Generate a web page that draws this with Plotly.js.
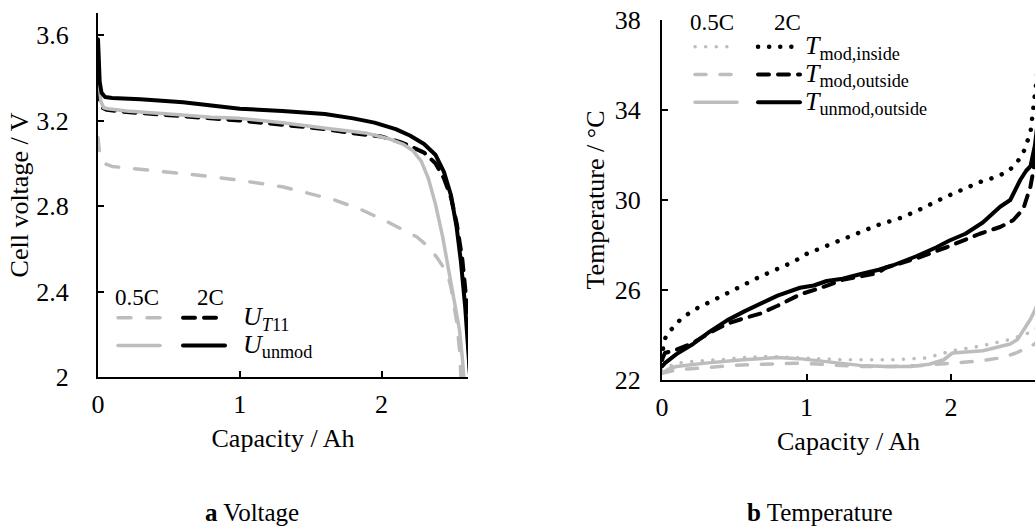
<!DOCTYPE html>
<html>
<head>
<meta charset="utf-8">
<script src="https://cdn.plot.ly/plotly-3.0.1.min.js"></script>
<style>
html,body{margin:0;padding:0;background:#fff;}
#chart{width:1035px;height:530px;}
path.js-line{stroke-linecap:round !important;stroke-linejoin:round !important;}
</style>
</head>
<body>
<div id="chart"></div>
<script>
// ---------- Voltage (left) ----------
const capUT11_05C = [0, 0.005, 0.012, 0.03, 0.06, 0.1, 0.33, 0.56, 0.77, 1.0, 1.3, 1.66, 1.85, 2.03, 2.15, 2.25, 2.33, 2.39, 2.44, 2.47, 2.49, 2.51, 2.53, 2.55, 2.56];
const uT11_05C    = [3.12, 3.08, 3.04, 3.01, 2.995, 2.985, 2.97, 2.955, 2.94, 2.92, 2.89, 2.83, 2.785, 2.73, 2.69, 2.655, 2.61, 2.56, 2.51, 2.47, 2.42, 2.35, 2.26, 2.13, 2.0];

const capUT11_2C = [0, 0.005, 0.012, 0.03, 0.06, 0.2, 0.5, 0.8, 1.0, 1.3, 1.6, 1.8, 2.0, 2.15, 2.3, 2.38, 2.44, 2.49, 2.53, 2.57, 2.6, 2.625];
const uT11_2C    = [3.45, 3.36, 3.30, 3.26, 3.25, 3.24, 3.225, 3.21, 3.20, 3.18, 3.16, 3.14, 3.125, 3.095, 3.05, 3.0, 2.93, 2.84, 2.72, 2.55, 2.35, 2.0];

const capUunmod_05C = [0, 0.004, 0.01, 0.02, 0.04, 0.07, 0.2, 0.5, 0.8, 1.0, 1.3, 1.65, 1.9, 2.05, 2.15, 2.22, 2.28, 2.33, 2.38, 2.43, 2.47, 2.5, 2.53, 2.55, 2.57, 2.58];
const uUnmod_05C    = [3.56, 3.45, 3.36, 3.29, 3.26, 3.255, 3.245, 3.23, 3.215, 3.21, 3.19, 3.16, 3.14, 3.115, 3.09, 3.06, 3.01, 2.93, 2.81, 2.66, 2.52, 2.41, 2.30, 2.22, 2.09, 2.0];

const capUunmod_2C = [0, 0.005, 0.012, 0.025, 0.05, 0.1, 0.3, 0.6, 0.9, 1.0, 1.3, 1.6, 1.8, 1.95, 2.1, 2.2, 2.3, 2.38, 2.44, 2.49, 2.53, 2.56, 2.59, 2.61, 2.625];
const uUnmod_2C    = [3.58, 3.47, 3.38, 3.33, 3.31, 3.305, 3.30, 3.285, 3.265, 3.255, 3.245, 3.23, 3.21, 3.19, 3.16, 3.13, 3.09, 3.04, 2.96, 2.85, 2.70, 2.54, 2.33, 2.15, 2.0];

const voltTicks = [2, 2.4, 2.8, 3.2, 3.6];
const voltTickText = ["2", "2.4", "2.8", "3.2", "3.6"];

// ---------- Temperature (right) ----------
const capTinside_05C = [0, 0.05, 0.1, 0.25, 0.4, 0.56, 0.75, 0.91, 1.1, 1.25, 1.45, 1.6, 1.83, 2.01, 2.2, 2.41, 2.5, 2.58, 2.61];
const tInside_05C    = [22.4, 22.6, 22.75, 22.85, 22.9, 23.0, 23.05, 23.0, 22.95, 22.9, 22.9, 22.9, 22.98, 23.3, 23.5, 23.8, 24.0, 24.2, 24.5];

const capToutside_05C = [0, 0.1, 0.3, 0.5, 0.7, 0.91, 1.1, 1.37, 1.6, 1.8, 2.01, 2.2, 2.36, 2.45, 2.52, 2.58, 2.61];
const tOutside_05C    = [22.3, 22.45, 22.55, 22.65, 22.7, 22.75, 22.7, 22.6, 22.6, 22.65, 22.75, 22.85, 23.0, 23.2, 23.4, 23.6, 23.8];

const capTunmod_05C = [0, 0.05, 0.1, 0.3, 0.56, 0.8, 0.95, 1.2, 1.37, 1.55, 1.72, 1.85, 1.95, 2.01, 2.22, 2.41, 2.46, 2.52, 2.55, 2.58, 2.61];
const tUnmod_05C    = [22.3, 22.5, 22.6, 22.75, 22.9, 23.0, 22.95, 22.75, 22.65, 22.6, 22.6, 22.7, 22.9, 23.2, 23.3, 23.6, 23.8, 24.4, 24.7, 25.1, 25.6];

const capTinside_2C = [0, 0.01, 0.03, 0.07, 0.125, 0.215, 0.35, 0.45, 0.68, 0.91, 1.0, 1.15, 1.32, 1.5, 1.65, 1.76, 1.95, 2.1, 2.2, 2.3, 2.39, 2.45, 2.5, 2.55, 2.57, 2.59, 2.61];
const tInside_2C    = [22.9, 23.6, 24.0, 24.3, 24.67, 25.1, 25.5, 25.85, 26.6, 27.25, 27.6, 28.0, 28.45, 28.9, 29.2, 29.5, 30.1, 30.5, 30.8, 31.0, 31.25, 31.6, 32.1, 33.0, 34.0, 35.2, 36.5];

const capToutside_2C = [0, 0.02, 0.1, 0.215, 0.33, 0.45, 0.57, 0.68, 0.8, 0.955, 1.1, 1.25, 1.49, 1.55, 1.76, 1.97, 2.2, 2.34, 2.43, 2.46, 2.5, 2.52, 2.55, 2.57, 2.59, 2.61];
const tOutside_2C    = [22.9, 23.2, 23.35, 23.65, 24.1, 24.5, 24.75, 24.95, 25.3, 25.8, 26.1, 26.45, 26.75, 27.0, 27.4, 27.9, 28.5, 28.8, 29.1, 29.3, 29.6, 30.0, 30.6, 31.3, 32.2, 33.5];

const capTunmod_2C = [0, 0.02, 0.1, 0.215, 0.33, 0.45, 0.57, 0.68, 0.8, 0.955, 1.05, 1.14, 1.25, 1.37, 1.5, 1.6, 1.76, 1.9, 1.99, 2.1, 2.22, 2.34, 2.41, 2.48, 2.52, 2.55, 2.58, 2.61];
const tUnmod_2C    = [22.6, 22.75, 23.15, 23.6, 24.15, 24.65, 25.05, 25.4, 25.75, 26.1, 26.2, 26.4, 26.5, 26.7, 26.9, 27.1, 27.5, 27.9, 28.2, 28.5, 29.0, 29.7, 30.0, 30.9, 31.3, 31.5, 32.4, 34.0];

const tempTicks = [22, 26, 30, 34, 38];
const capTicks = [0, 1, 2];

// ---------- labels ----------
const rateLabels = ["0.5C", "2C"];
const voltNames = ["<i>U</i><sub><i>T</i>11</sub>", "<i>U</i><sub>unmod</sub>"];
const tempNames = ["<i>T</i><sub>mod,inside</sub>", "<i>T</i><sub>mod,outside</sub>", "<i>T</i><sub>unmod,outside</sub>"];
const captions = ["<b>a</b> Voltage", "<b>b</b> Temperature"];

const GRAY = "#bdbdbd";
const BLACK = "#000000";
const FONT = "Liberation Serif";
const LBL = s => '<span style="font-size:26px">' + s + '</span>';
const BLANK = "&nbsp;";

function tr(x, y, xa, ya, color, width, dash, name, legend) {
  return {
    type: "scatter", mode: "lines", x: x, y: y, xaxis: xa, yaxis: ya,
    line: {color: color, width: width, dash: dash},
    name: name, legend: legend, showlegend: true, hoverinfo: "skip"
  };
}

const data = [
  tr(capUT11_05C, uT11_05C, "x", "y", GRAY, 3.5, "13px,16px", BLANK, "legend"),
  tr(capUT11_2C, uT11_2C, "x", "y", BLACK, 4, "12px,9px", LBL("&nbsp;&nbsp;" + voltNames[0]), "legend2"),
  tr(capUunmod_05C, uUnmod_05C, "x", "y", GRAY, 3.5, "solid", BLANK, "legend"),
  tr(capUunmod_2C, uUnmod_2C, "x", "y", BLACK, 4, "solid", LBL("&nbsp;&nbsp;" + voltNames[1]), "legend2"),

  tr(capTinside_05C, tInside_05C, "x2", "y2", GRAY, 3.5, "0.1px,10.5px", BLANK, "legend3"),
  tr(capToutside_05C, tOutside_05C, "x2", "y2", GRAY, 3.5, "11px,14px", BLANK, "legend3"),
  tr(capTunmod_05C, tUnmod_05C, "x2", "y2", GRAY, 3.5, "solid", BLANK, "legend3"),
  tr(capTinside_2C, tInside_2C, "x2", "y2", BLACK, 4.5, "0.1px,11px", LBL(tempNames[0]), "legend4"),
  tr(capToutside_2C, tOutside_2C, "x2", "y2", BLACK, 4, "11px,9px", LBL(tempNames[1]), "legend4"),
  tr(capTunmod_2C, tUnmod_2C, "x2", "y2", BLACK, 4, "solid", LBL(tempNames[2]), "legend4")
];

const W = 1035, H = 530;
const px = v => v / W;
const py = v => (H - v) / H;

const axisBase = {
  showgrid: false, zeroline: false, showline: true, linecolor: BLACK, linewidth: 2,
  ticks: "inside", ticklen: 6, tickwidth: 1.5, tickcolor: BLACK,
  tickfont: {family: FONT, size: 26, color: BLACK},
  fixedrange: true
};
const legendBase = {
  bgcolor: "rgba(0,0,0,0)", borderwidth: 0, font: {family: FONT, size: 19, color: BLACK},
  xanchor: "left", yanchor: "top", itemwidth: 42, itemclick: false, itemdoubleclick: false,
  tracegroupgap: 0
};
const titleFont = {family: FONT, size: 26, color: BLACK};
const annFont = {family: FONT, size: 23, color: BLACK};

const layout = {
  width: W, height: H,
  margin: {l: 0, r: 0, t: 0, b: 0},
  paper_bgcolor: "#ffffff", plot_bgcolor: "rgba(0,0,0,0)",
  showlegend: true,
  font: {family: FONT, color: BLACK},
  xaxis: Object.assign({}, axisBase, {
    domain: [px(98), px(468)], range: [0, 2.61], anchor: "y",
    tickvals: capTicks, ticklabelstandoff: 3,
    title: {text: "Capacity / Ah", font: titleFont, standoff: 11}
  }),
  yaxis: Object.assign({}, axisBase, {
    domain: [py(377), py(13)], range: [2, 3.703], anchor: "x",
    tickvals: voltTicks, ticktext: voltTickText, ticklabelstandoff: 22,
    title: {text: "Cell voltage / V", font: titleFont, standoff: 0}
  }),
  xaxis2: Object.assign({}, axisBase, {
    domain: [px(662), 1], range: [0, (W - 662) / 144.5], anchor: "y2",
    tickvals: capTicks, ticklabelstandoff: 3,
    title: {text: "Capacity / Ah", font: titleFont, standoff: 11}
  }),
  yaxis2: Object.assign({}, axisBase, {
    domain: [py(380), py(20)], range: [22, 38], anchor: "x2",
    tickvals: tempTicks, ticklabelstandoff: 14,
    title: {text: "Temperature / °C", font: titleFont, standoff: 3}
  }),
  legend: Object.assign({}, legendBase, {x: px(113), y: py(299)}),
  legend2: Object.assign({}, legendBase, {x: px(178), y: py(299)}),
  legend3: Object.assign({}, legendBase, {x: px(690), y: py(28)}),
  legend4: Object.assign({}, legendBase, {x: px(753), y: py(28)}),
  annotations: [
    {text: rateLabels[0], x: px(137), y: py(297), xref: "paper", yref: "paper", showarrow: false, xanchor: "center", yanchor: "middle", font: annFont},
    {text: rateLabels[1], x: px(210), y: py(297), xref: "paper", yref: "paper", showarrow: false, xanchor: "center", yanchor: "middle", font: annFont},
    {text: rateLabels[0], x: px(712), y: py(23), xref: "paper", yref: "paper", showarrow: false, xanchor: "center", yanchor: "middle", font: annFont},
    {text: rateLabels[1], x: px(787), y: py(23), xref: "paper", yref: "paper", showarrow: false, xanchor: "center", yanchor: "middle", font: annFont},
    {text: captions[0], x: px(252), y: py(512), xref: "paper", yref: "paper", showarrow: false, xanchor: "center", yanchor: "middle", font: {family: FONT, size: 25, color: BLACK}},
    {text: captions[1], x: px(820), y: py(512), xref: "paper", yref: "paper", showarrow: false, xanchor: "center", yanchor: "middle", font: {family: FONT, size: 25, color: BLACK}}
  ]
};

Plotly.newPlot("chart", data, layout, {displayModeBar: false, responsive: false}).then(function (gd) {
  // drop the empty per-trace text groups that line-only traces leave behind
  gd.querySelectorAll(".scatterlayer g.text").forEach(function (g) {
    if (!g.childNodes.length) g.remove();
  });
});
</script>
</body>
</html>
